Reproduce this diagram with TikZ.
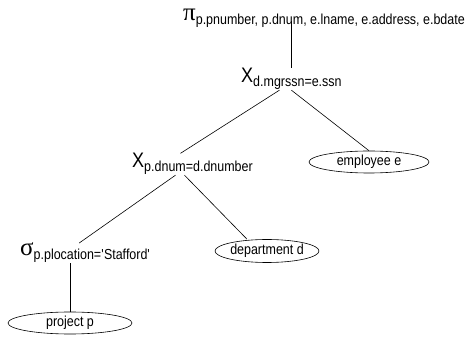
\documentclass[tikz,border=0pt]{standalone}
\usepackage{fontspec}
\setmainfont[FakeStretch=0.86]{Liberation Sans}
\newfontfamily\greekfont{Liberation Serif}
\usetikzlibrary{shapes.geometric, positioning}

\newcommand{\opsym}[1]{{\fontsize{21}{24}\selectfont #1}}
\newcommand{\opgreek}[1]{{\fontsize{25}{28}\selectfont\greekfont #1}}
\newcommand{\opsub}[1]{\raisebox{-4pt}{\fontsize{14.5}{16}\selectfont #1}}

\begin{document}
\begin{tikzpicture}[
  x=1pt, y=-1pt,
  op/.style={inner sep=0pt, anchor=base west},
  rel/.style={ellipse, draw, line width=0.6pt, inner sep=0pt, font=\fontsize{14.5}{16}\selectfont},
  edge/.style={line width=0.6pt}
]
  \useasboundingbox (0,0) rectangle (471,344);

  \node[op] (proj) at (183,21) {\opgreek{π}\opsub{p.pnumber, p.dnum, e.lname, e.address, e.bdate}};
  \node[op] (joinA) at (241,83) {\opsym{X}\opsub{d.mgrssn=e.ssn}};
  \node[op] (joinB) at (132,168) {\opsym{X}\opsub{p.dnum=d.dnumber}};
  \node[op] (sel) at (20,256) {\opgreek{σ}\opsub{p.plocation=\textquotesingle Stafford\textquotesingle}};

  \node[rel, minimum width=120pt, minimum height=22pt] (emp) at (369,162) {employee e};
  \node[rel, minimum width=104pt, minimum height=23pt] (dept) at (267,251) {department d};
  \node[rel, minimum width=124pt, minimum height=22pt] (prj) at (70,323) {project p};

  \draw[edge] (joinA.north |- proj.base) -- (joinA.north);
  \draw[edge] ([xshift=-12pt]joinA.south) -- ([xshift=-12pt]joinB.north);
  \draw[edge] (joinA.south) -- (emp.north);
  \draw[edge] ([xshift=-17pt]joinB.south) -- ([xshift=-6pt]sel.north);
  \draw[edge] ([xshift=-8pt]joinB.south) -- ([xshift=-20pt]dept.north);
  \draw[edge] (sel.south -| prj.north) -- (prj.north);
\end{tikzpicture}
\end{document}
